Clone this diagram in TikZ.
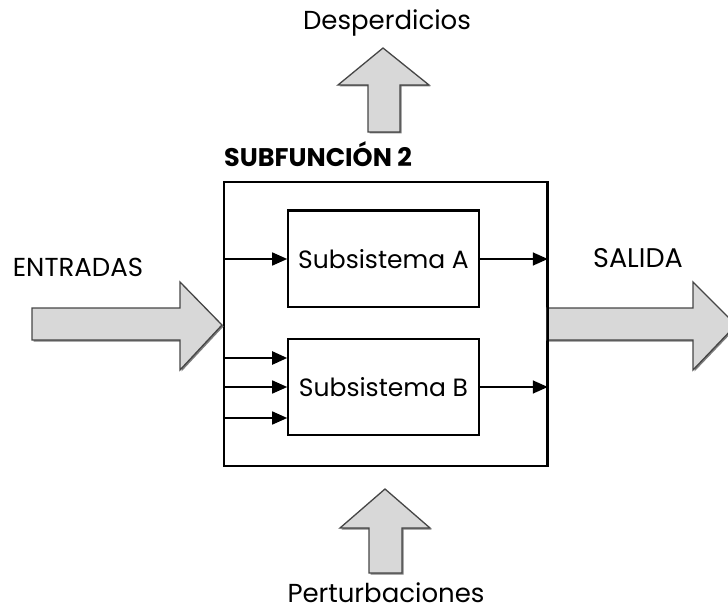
\documentclass[tikz,border=0pt]{standalone}
\usepackage{fontspec}
\setmainfont{Poppins}
\usetikzlibrary{arrows.meta,calc}
\definecolor{arrowfill}{RGB}{216,216,216}
\definecolor{arrowedge}{RGB}{70,70,70}
\tikzset{
  block/.style={draw=black,line width=1.6pt,fill=white,inner sep=0pt},
  label/.style={inner sep=0pt,font=\fontsize{26}{30}\selectfont},
  sublabel/.style={inner sep=0pt,font=\fontsize{25}{28}\selectfont},
  flow/.style={line width=1.5pt,-{Triangle[length=15pt,width=13pt]}},
  fatarrow/.style={fill=arrowfill,draw=arrowedge,line width=1.3pt,line join=miter},
  fatshadow/.style={fill=arrowedge!70,draw=none}
}
\begin{document}
\begin{tikzpicture}[x=1pt,y=-1pt]
\useasboundingbox (0,0) rectangle (728,612);
\clip (0,0) rectangle (728,612);

% main subsystem frame and the two inner blocks
\node[block,minimum width=323pt,minimum height=284pt] (main) at (385.5,324) {};
\node[block,minimum width=191pt,minimum height=96pt] (subA) at (383.5,259) {};
\node[block,minimum width=191pt,minimum height=96pt] (subB) at (383.5,387) {};
\draw[line width=3pt] (subA.north west) -- (subA.north east);
\node[sublabel] (tA) at (subA.center) {Subsistema A};
\node[sublabel] (tB) at (subB.center) {Subsistema B};

% heading of the frame
\node[inner sep=0pt,anchor=base west,font=\fontsize{25.5}{30}\selectfont\bfseries] (title) at (224,167) {SUBFUNCIÓN 2};

% internal flows
\draw[flow] (main.west |- subA.west) -- (subA.west);
\draw[flow] (subA.east) -- (main.east |- subA.east);
\coordinate (b1) at ($(subB.west)+(0,-29)$);
\coordinate (b2) at (subB.west);
\coordinate (b3) at ($(subB.west)+(0,31)$);
\draw[flow,line width=2.4pt] (main.west |- b1) -- (b1);
\draw[flow] (main.west |- b2) -- (b2);
\draw[flow] (main.west |- b3) -- (b3);
\draw[flow] (subB.east) -- (main.east |- subB.east);

% wide arrows: inputs, output, waste and disturbances
\begin{scope}[shift={(1.5,1.5)}]
\fill[fatshadow] (32,308) -- (180,308) -- (180,282) -- (222,325) -- (180,370) -- (180,340) -- (32,340) -- cycle;
\fill[fatshadow] (547,308) -- (693,308) -- (693,282) -- (736,325) -- (693,370) -- (693,340) -- (547,340) -- cycle;
\fill[fatshadow] (368,132) -- (368,85) -- (338,85) -- (383,48) -- (429,85) -- (400,85) -- (400,132) -- cycle;
\fill[fatshadow] (369,573) -- (369,528) -- (340,528) -- (385,489) -- (430,528) -- (402,528) -- (402,573) -- cycle;
\end{scope}
\draw[fatarrow] (32,308) -- (180,308) -- (180,282) -- (222,325) -- (180,370) -- (180,340) -- (32,340) -- cycle;
\draw[fatarrow] (547,308) -- (693,308) -- (693,282) -- (736,325) -- (693,370) -- (693,340) -- (547,340) -- cycle;
\draw[fatarrow] (368,132) -- (368,85) -- (338,85) -- (383,48) -- (429,85) -- (400,85) -- (400,132) -- cycle;
\draw[fatarrow] (369,573) -- (369,528) -- (340,528) -- (385,489) -- (430,528) -- (402,528) -- (402,573) -- cycle;
\draw[line width=1.6pt] (main.north east) -- (main.south east);

% outer labels
\node[label,anchor=base] (entradas) at (78,277) {ENTRADAS};
\node[label,anchor=base,font=\fontsize{27}{30}\selectfont] (salida) at (638,268) {SALIDA};
\node[label,anchor=base] (desp) at (387,30) {Desperdicios};
\node[label,anchor=base] (pert) at (386,602) {Perturbaciones};
\end{tikzpicture}
\end{document}
